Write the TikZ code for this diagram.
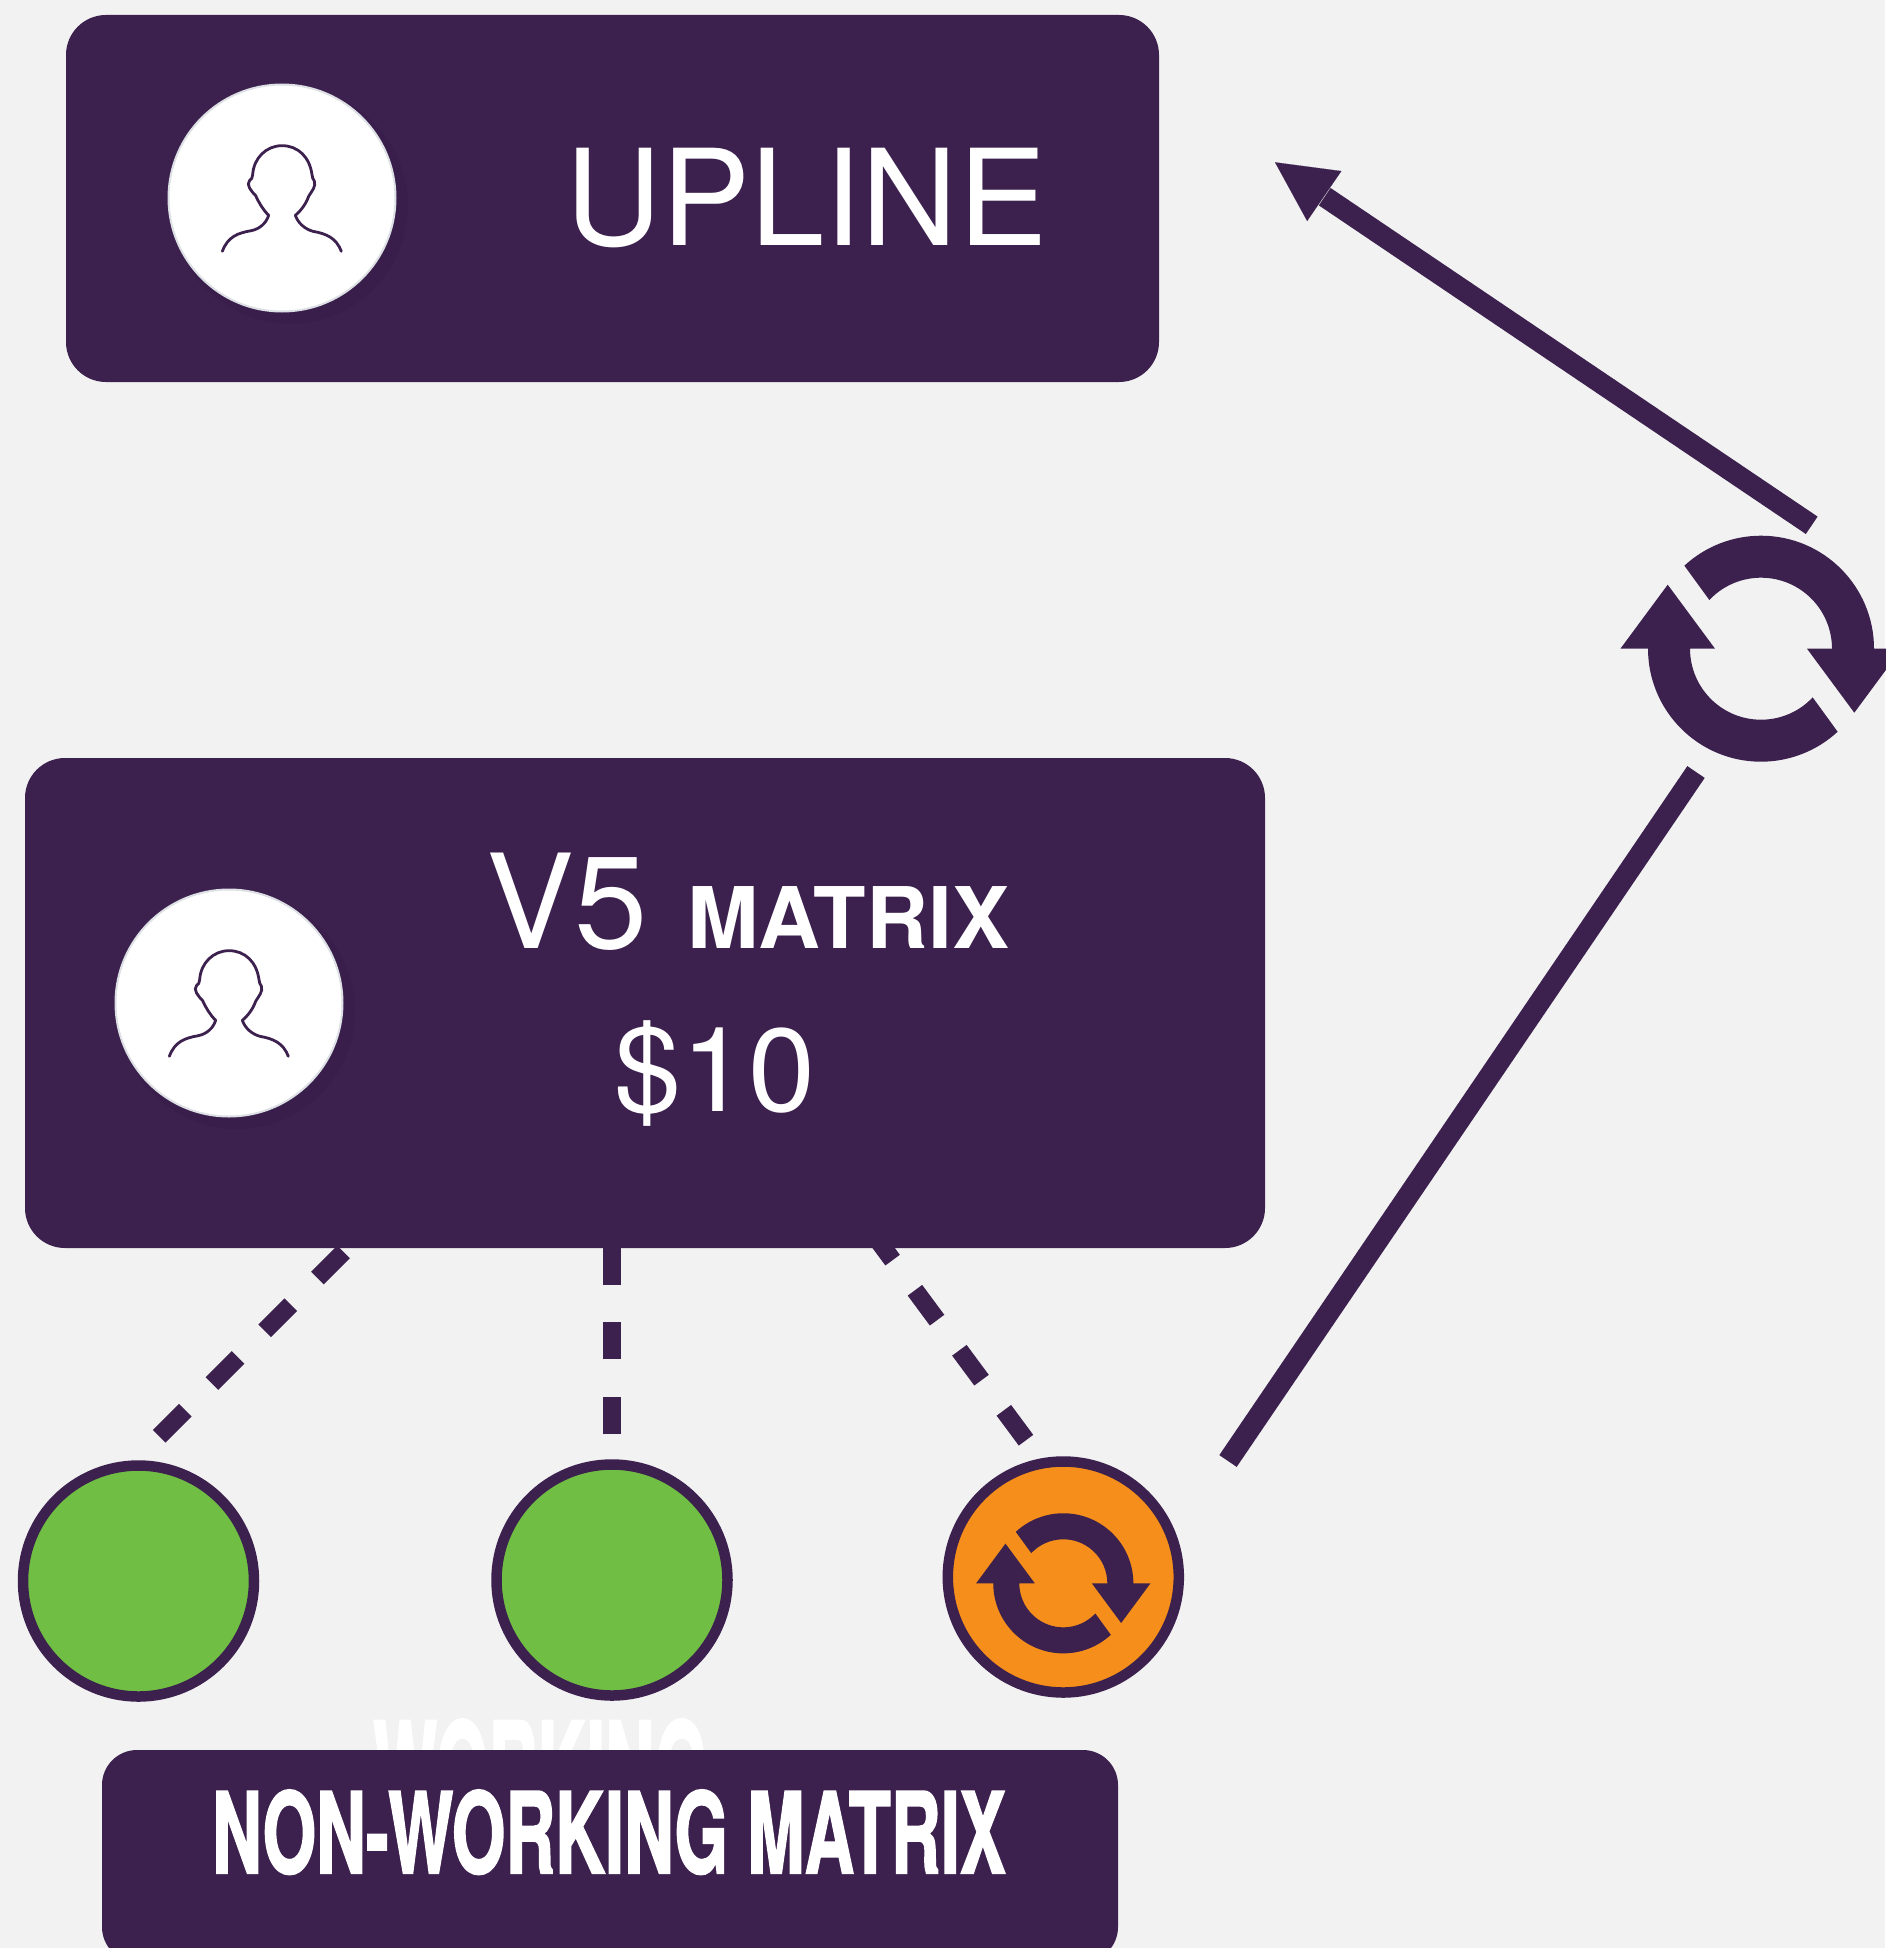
\documentclass[tikz,border=0pt]{standalone}
\usepackage{fontspec}
\usepackage{graphicx}
\setmainfont{TeX Gyre Heros}
\newfontfamily\heavy[FakeBold=2]{TeX Gyre Heros Bold}
\usetikzlibrary{arrows.meta}
\definecolor{plum}{HTML}{3C214E}
\definecolor{paper}{HTML}{F2F2F2}
\definecolor{leaf}{HTML}{70BF44}
\definecolor{amber}{HTML}{F58E1A}
\definecolor{ringgrey}{HTML}{DDE0E4}
\definecolor{shade}{HTML}{391E4B}
\newcommand{\lbl}[3]{\scalebox{#2}[1]{\fontsize{#1pt}{#1pt}\selectfont #3}}
\tikzset{
  panel/.style={rectangle,rounded corners=#1,fill=plum,inner sep=0pt},
  portrait/.style={circle,fill=white,draw=ringgrey,line width=2pt,minimum size=227pt,inner sep=0pt},
  portraitshade/.style={circle,fill=shade,minimum size=236pt,inner sep=0pt},
  member/.style={circle,draw=plum,line width=10.5pt,minimum size=231pt,inner sep=0pt},
  caption/.style={inner sep=0pt,anchor=base west,text=white},
  solidlink/.style={draw=plum,line width=21pt},
  dashlink/.style={draw=plum,line width=18pt},
  headlink/.style={draw=plum,line width=.1pt,-{Triangle[length=59.7pt,width=60.5pt,fill=plum]}},
  pics/reload/.style={code={
    \fill[plum] (0:113) arc[start angle=0,end angle=-132.7,radius=113]
      -- (-136.7:71) arc[start angle=-136.7,end angle=0,radius=71]
      -- (46,0) -- (93.3,64) -- (140.6,0) -- cycle;
    \fill[plum,rotate=180] (0:113) arc[start angle=0,end angle=-132.7,radius=113]
      -- (-136.7:71) arc[start angle=-136.7,end angle=0,radius=71]
      -- (46,0) -- (93.3,64) -- (140.6,0) -- cycle;
  }},
  pics/silhouette/.style={code={
    \draw[plum,line width=2.8pt,line cap=round,line join=round,xshift=-397,yshift=-385]
      (218,545) .. controls (235,500) and (265,490) .. (305,483)
      .. controls (330,478) and (350,460) .. (357,437)
      .. controls (340,420) and (328,400) .. (318,378)
      .. controls (305,365) and (288,345) .. (300,332)
      .. controls (306,328) and (308,325) .. (309,315)
      .. controls (312,265) and (350,228) .. (397,228)
      .. controls (445,228) and (480,262) .. (487,315)
      .. controls (488,325) and (490,328) .. (494,334)
      .. controls (500,350) and (486,365) .. (478,378)
      .. controls (470,400) and (457,420) .. (437,437)
      .. controls (445,460) and (465,478) .. (490,485)
      .. controls (530,492) and (560,505) .. (575,545);
  }}
}
\begin{document}
\begin{tikzpicture}[x=1pt,y=1pt,yscale=-1]
\useasboundingbox (0,0) rectangle (1885,1948);
\fill[paper] (0,0) rectangle (1885,1948);

% hidden caption behind the lower panel
\node[caption] (hiddenword) at (373,1823) {\lbl{140}{0.484}{\heavy WORKING}};

% panels
\node[panel=40pt,minimum width=1093pt,minimum height=367pt] (upline) at (612.5,198.5) {};
\node[panel=40pt,minimum width=1240pt,minimum height=490pt] (v5box) at (645,1003) {};
\node[panel=35pt,minimum width=1016pt,minimum height=212pt] (nonworking) at (610,1856) {};

% portraits
\node[portraitshade] at (290,206) {};
\node[portrait] (uplinephoto) at (282,198) {};
\pic[scale=.3333,yscale=-1] at (282,198) {silhouette};
\node[portraitshade] at (237,1011) {};
\node[portrait] (v5photo) at (229,1003) {};
\pic[scale=.3333,yscale=-1] at (229,1003) {silhouette};

% captions
\node[caption] (uplinetext) at (565,245) {\lbl{133.5}{1}{UPLINE}};
\node[caption] (v5text) at (486,948.3) {\lbl{131}{1.005}{V5}};
\node[caption] (matrixtext) at (687,948.3) {\lbl{85}{1.01}{\bfseries MATRIX}};
\node[caption] (pricetext) at (614,1111) {\lbl{118}{1.02}{\$10}};
\node[caption] (nonworktext) at (212,1873) {\lbl{112}{0.615}{\heavy NON-WORKING MATRIX}};

% members
\node[member,fill=leaf] (green1) at (138.5,1581) {};
\node[member,fill=leaf] (green2) at (612,1580) {};
\node[member,fill=amber] (orange) at (1063.3,1577) {};
\pic[scale=.62,yscale=-1] at (1063.3,1583.3) {reload};

% big cycle icon
\pic[yscale=-1] at (1761,648.7) {reload};

% dashed connectors
\coordinate (d1a) at (159.2,1436.3);
\coordinate (d1b) at (345,1250.5);
\coordinate (d2a) at (612,1434);
\coordinate (d2b) at (612,1247);
\coordinate (d3a) at (1026,1440.2);
\coordinate (d3b) at (870.3,1230);
\draw[dashlink,dash pattern=on 37pt off 37.6pt] (d1a) -- (d1b);
\draw[dashlink,dash pattern=on 37.3pt off 37.4pt] (d2a) -- (d2b);
\draw[dashlink,dash pattern=on 37.2pt off 37.5pt] (d3a) -- (d3b);

% solid connectors
\coordinate (s1a) at (1228,1461);
\coordinate (s1b) at (1696,772);
\draw[solidlink] (s1a) -- (s1b);
\coordinate (s2a) at (1811.7,525.3);
\coordinate (s2b) at (1324.7,196.7);
\coordinate (s2c) at (1323.6,195.6);
\coordinate (s2d) at (1275,162.3);
\draw[solidlink] (s2a) -- (s2b);
\draw[headlink] (s2c) -- (s2d);
\end{tikzpicture}
\end{document}
